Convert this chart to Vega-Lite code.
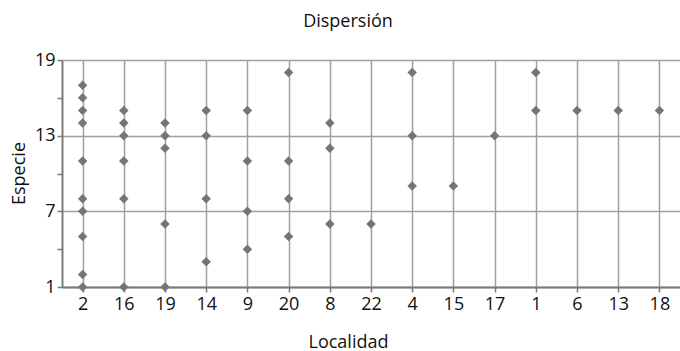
{
  "$schema": "https://vega.github.io/schema/vega-lite/v6.json",
  "width": 618,
  "height": 227,
  "autosize": {"type": "none"},
  "padding": {"left": 62, "top": 60, "right": 0, "bottom": 64},
  "background": "white",
  "title": {
    "text": "Dispersión",
    "font": "Open Sans",
    "fontSize": 18,
    "fontWeight": "normal",
    "color": "#111111",
    "anchor": "middle",
    "baseline": "alphabetic",
    "dx": -23,
    "offset": 6
  },
  "config": {
    "view": {"stroke": null},
    "axis": {
      "labelFont": "Open Sans",
      "titleFont": "Open Sans",
      "labelFontSize": 18,
      "titleFontSize": 18,
      "titleFontWeight": "normal",
      "labelColor": "#111111",
      "titleColor": "#111111",
      "gridColor": "#a0a0a0",
      "gridWidth": 1.5,
      "gridOpacity": 1,
      "domainColor": "#7a7a7a",
      "domainWidth": 2,
      "tickColor": "#7a7a7a",
      "tickWidth": 1.5,
      "tickSize": 5
    }
  },
  "data": {
    "values": [
      {"loc": "2", "esp": 1}, {"loc": "2", "esp": 2}, {"loc": "2", "esp": 5}, {"loc": "2", "esp": 7}, {"loc": "2", "esp": 8},
      {"loc": "2", "esp": 11}, {"loc": "2", "esp": 14}, {"loc": "2", "esp": 15}, {"loc": "2", "esp": 16}, {"loc": "2", "esp": 17},
      {"loc": "16", "esp": 1}, {"loc": "16", "esp": 8}, {"loc": "16", "esp": 11}, {"loc": "16", "esp": 13}, {"loc": "16", "esp": 14}, {"loc": "16", "esp": 15},
      {"loc": "19", "esp": 1}, {"loc": "19", "esp": 6}, {"loc": "19", "esp": 12}, {"loc": "19", "esp": 13}, {"loc": "19", "esp": 14},
      {"loc": "14", "esp": 3}, {"loc": "14", "esp": 8}, {"loc": "14", "esp": 13}, {"loc": "14", "esp": 15},
      {"loc": "9", "esp": 4}, {"loc": "9", "esp": 7}, {"loc": "9", "esp": 11}, {"loc": "9", "esp": 15},
      {"loc": "20", "esp": 5}, {"loc": "20", "esp": 8}, {"loc": "20", "esp": 11}, {"loc": "20", "esp": 18},
      {"loc": "8", "esp": 6}, {"loc": "8", "esp": 12}, {"loc": "8", "esp": 14},
      {"loc": "22", "esp": 6},
      {"loc": "4", "esp": 9}, {"loc": "4", "esp": 13}, {"loc": "4", "esp": 18},
      {"loc": "15", "esp": 9},
      {"loc": "17", "esp": 13},
      {"loc": "1", "esp": 15}, {"loc": "1", "esp": 18},
      {"loc": "6", "esp": 15},
      {"loc": "13", "esp": 15},
      {"loc": "18", "esp": 15}
    ]
  },
  "mark": {"type": "point", "shape": "diamond", "filled": true, "color": "#757575", "size": 90, "opacity": 1},
  "encoding": {
    "x": {
      "field": "loc",
      "type": "ordinal",
      "sort": ["2", "16", "19", "14", "9", "20", "8", "22", "4", "15", "17", "1", "6", "13", "18"],
      "scale": {"type": "point", "padding": 0.5},
      "axis": {
        "title": "Localidad",
        "labelAngle": 0,
        "labelPadding": 3,
        "grid": true,
        "titleX": 286,
        "titleY": 60,
        "titleBaseline": "alphabetic",
        "titleAnchor": null
      }
    },
    "y": {
      "field": "esp",
      "type": "quantitative",
      "scale": {"domain": [1, 19], "nice": false, "zero": false},
      "axis": {
        "title": "Especie",
        "values": [1, 4, 7, 10, 13, 16, 19],
        "labelExpr": "(datum.value - 1) % 6 == 0 ? datum.label : ''",
        "labelPadding": 2,
        "grid": true,
        "gridOpacity": {"condition": {"test": "(datum.value - 1) % 6 == 0", "value": 1}, "value": 0},
        "titleX": -38,
        "titleY": 113,
        "titleBaseline": "alphabetic",
        "titleAlign": "center",
        "titleAngle": -90
      }
    }
  }
}
